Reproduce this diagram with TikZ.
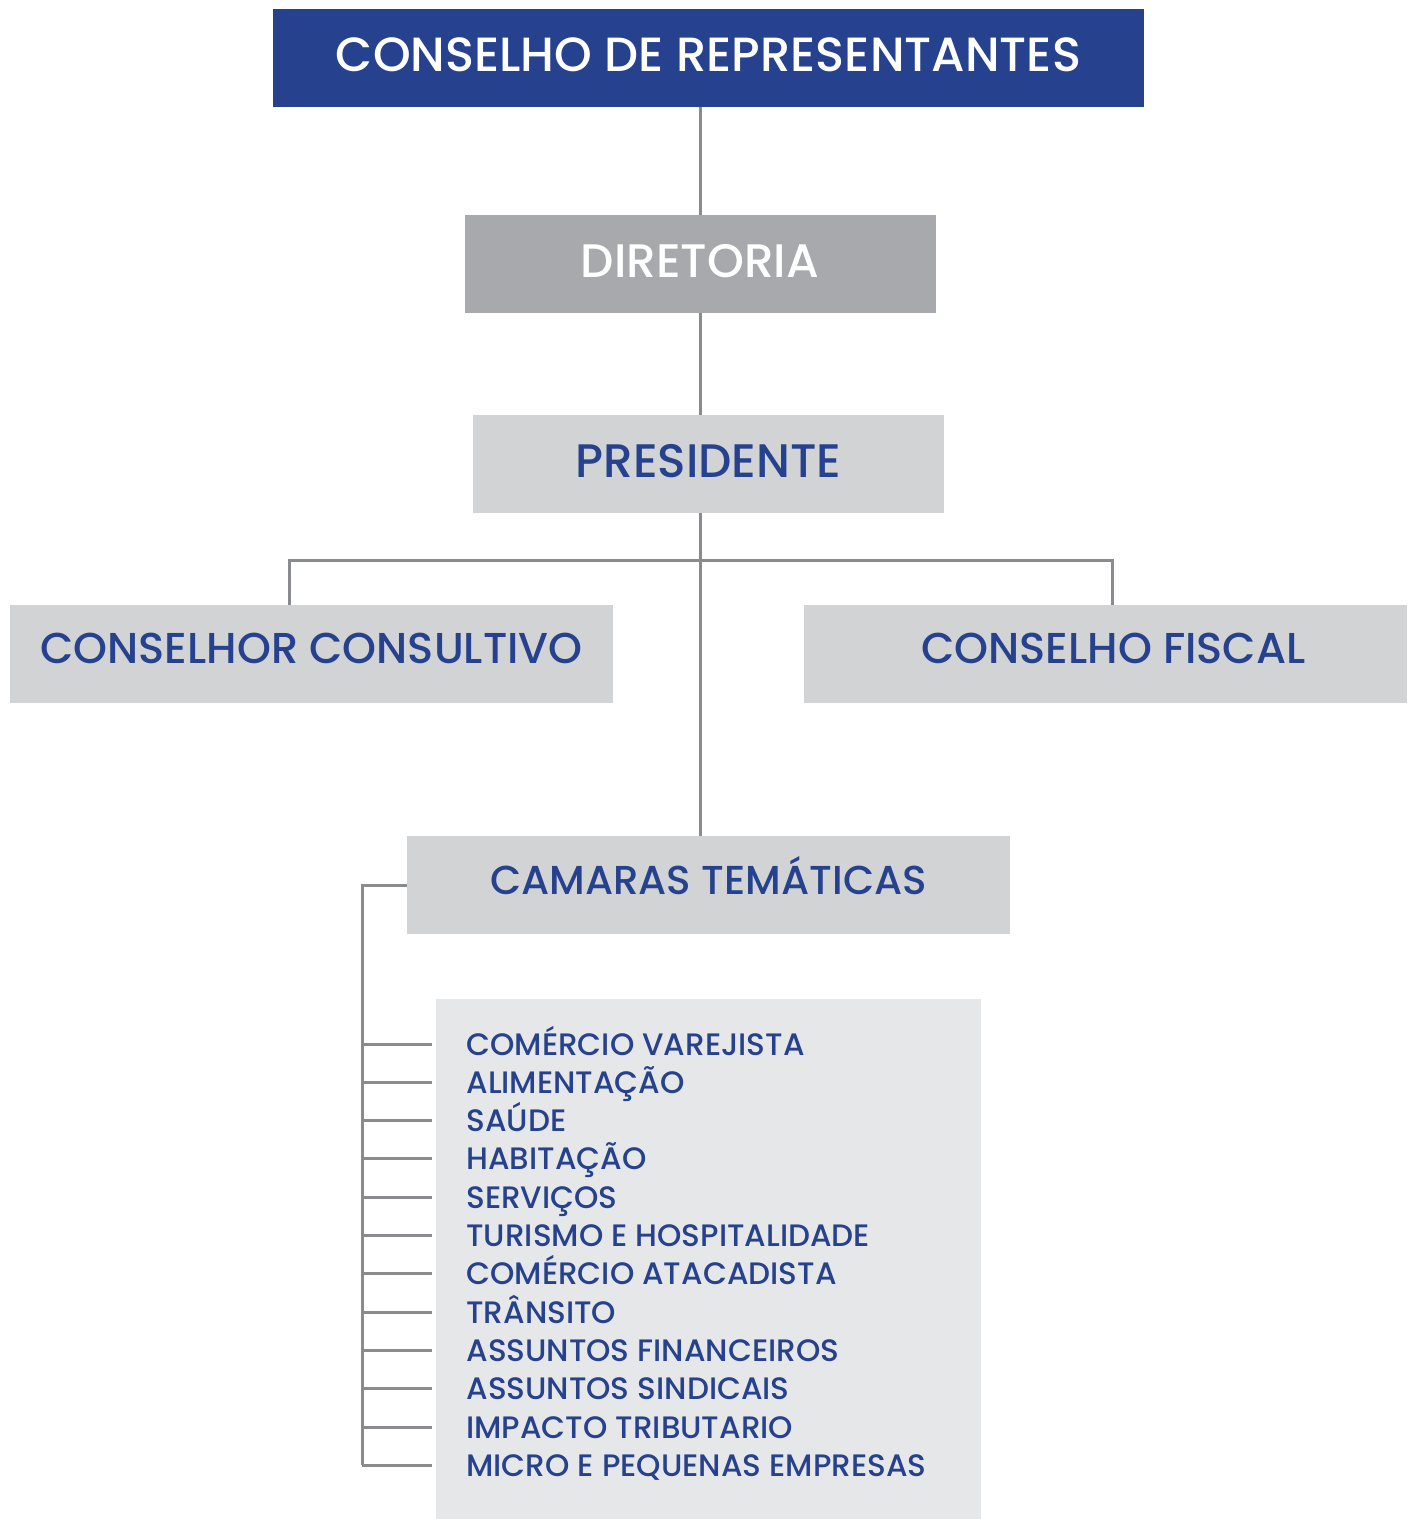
\documentclass[tikz,border=0pt]{standalone}
\usepackage{fontspec}
\setmainfont{Poppins Medium}
\definecolor{azul}{RGB}{38,65,142}
\definecolor{cinzaA}{RGB}{167,169,172}
\definecolor{cinzaB}{RGB}{209,211,212}
\definecolor{cinzaC}{RGB}{230,231,232}
\definecolor{linha}{RGB}{138,139,142}

\begin{document}
\begin{tikzpicture}[x=0.5pt,y=-0.5pt]
                \tikzset{Caixa/.style={inner sep=0pt, minimum height=49pt, text depth=0pt, text height=13.5pt},
                         CaixaAzul/.style={Caixa, fill=azul, text=white, minimum width=435.5pt,
                                           font=\fontsize{24}{24}\selectfont},
                         CaixaMedia/.style={Caixa, fill=cinzaA, text=white, minimum width=235.5pt,
                                            font=\fontsize{23.5}{23.5}\selectfont},
                         CaixaClara/.style={Caixa, fill=cinzaB, text=azul, minimum width=301.5pt,
                                            font=\fontsize{21.6}{21.6}\selectfont, text height=9pt},
                         Item/.style={anchor=west, inner xsep=17pt, inner ysep=0pt, text=azul,
                                      font=\fontsize{15.5}{15.5}\selectfont, text height=11pt, text depth=0pt},
                         Linha/.style={draw=linha, line width=1.5pt}}
                \useasboundingbox (0,0) rectangle (1411,1519);
                \node[CaixaAzul] (CR) at (708.5,58) {CONSELHO DE REPRESENTANTES};
                \node[CaixaMedia] (DIR) at (700,264) {DIRETORIA};
                \node[CaixaClara, minimum width=235.5pt, font=\fontsize{23.5}{23.5}\selectfont,
                      text height=13.5pt] (PRES) at (708.5,464) {PRESIDENTE};
                \node[CaixaClara] (CC) at (311.5,654) {CONSELHOR CONSULTIVO};
                \node[CaixaClara] (CF) at (1105.5,654) {\hspace*{8pt}CONSELHO FISCAL};
                \node[CaixaClara, font=\fontsize{20.2}{20.2}\selectfont, text height=9.4pt] (CT) at (708.5,885) {CAMARAS TEMÁTICAS};
                \fill[cinzaC] (436,999) rectangle (981,1519);
                \coordinate (JL) at (289,560);
                \coordinate (JR) at (1112,560);
                \coordinate (T) at (362,0);
                \foreach \n/\txt [count=\i from 0] in {C1/COMÉRCIO VAREJISTA, C2/ALIMENTAÇÃO, C3/SAÚDE,
                        C4/HABITAÇÃO, C5/SERVIÇOS, C6/TURISMO E HOSPITALIDADE, C7/COMÉRCIO ATACADISTA,
                        C8/TRÂNSITO, C9/ASSUNTOS FINANCEIROS, C10/ASSUNTOS SINDICAIS,
                        C11/IMPACTO TRIBUTARIO, C12/MICRO E PEQUENAS EMPRESAS}
                    \node[Item] (\n) at (432,1044+38.3*\i) {\txt};
                \draw[Linha] (CR.south -| DIR.north) -- (DIR.north);
                \draw[Linha] (DIR.south) -- (DIR.south |- PRES.north);
                \draw[Linha] (DIR.south |- PRES.south) -- (DIR.south |- CT.north);
                \draw[Linha] (JL |- CC.north) -- (JL) -- (JR) -- (JR |- CF.north);
                \draw[Linha] (CT.west) -| (T |- C12.west);
                \foreach \n in {C1,C2,C3,C4,C5,C6,C7,C8,C9,C10,C11,C12}
                    \draw[Linha] (T |- \n.west) -- (\n.west);
            \end{tikzpicture}
\end{document}
